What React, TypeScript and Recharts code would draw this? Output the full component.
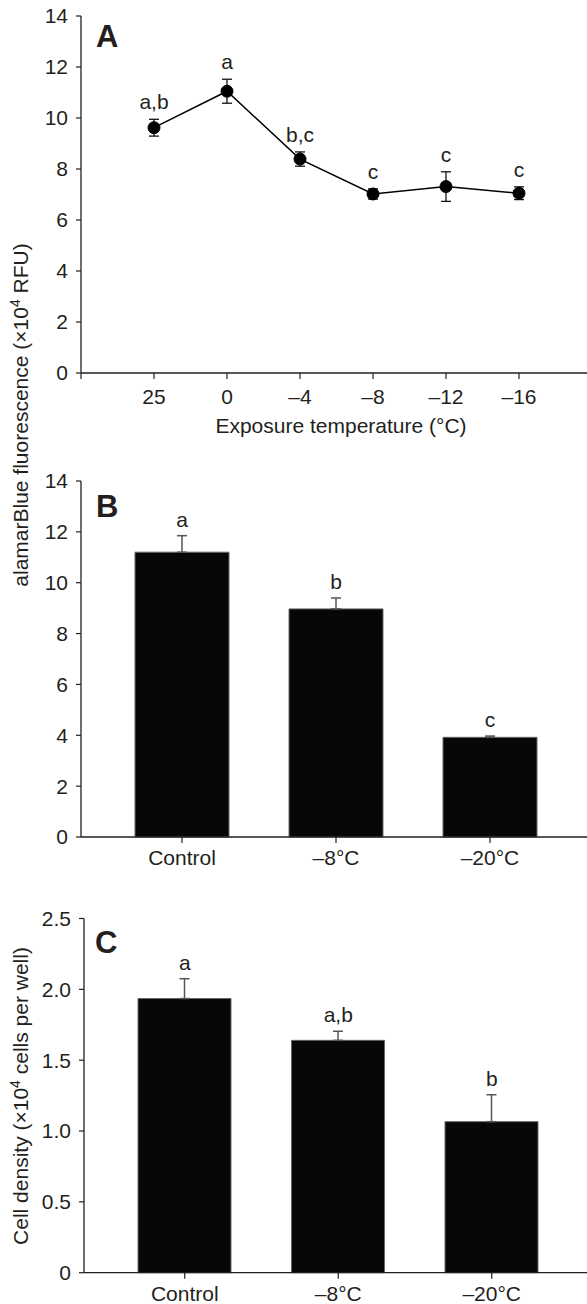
import React from 'react';
import {
  LineChart,
  Line,
  XAxis,
  YAxis,
  ErrorBar,
  LabelList,
  ComposedChart,
  Bar,
} from 'recharts';

// ---- Panel A data ----
const tempLabels = ['25', '0', '–4', '–8', '–12', '–16'];
const fluorMeans = [9.62, 11.05, 8.39, 7.02, 7.31, 7.05];
const fluorErrs = [0.33, 0.47, 0.28, 0.2, 0.58, 0.25];
const fluorLetters = ['a,b', 'a', 'b,c', 'c', 'c', 'c'];

// ---- Panel B / C data ----
const treatLabels = ['Control', '–8°C', '–20°C'];
const bMeans = [11.2, 8.97, 3.92];
const bErrs = [0.65, 0.43, 0.05];
const bLetters = ['a', 'b', 'c'];
const cMeans = [1.935, 1.64, 1.066];
const cErrs = [0.14, 0.064, 0.19];
const cLetters = ['a', 'a,b', 'b'];

const fluorTicks = [0, 2, 4, 6, 8, 10, 12, 14];
const densityTicks = [0, 0.5, 1, 1.5, 2, 2.5];
const tempTickIdx = [0, 1, 2, 3, 4, 5, 6];

const FONT = '"Liberation Sans", Arial, Helvetica, sans-serif';
const TXT = '#231f20';
const AX = '#231f20';
const FS = 21;

const dataA = tempLabels.map((l, i) => ({
  x: i + 1,
  label: l,
  mean: fluorMeans[i],
  err: fluorErrs[i],
  top: fluorMeans[i] + fluorErrs[i],
  letter: fluorLetters[i],
}));

const mkBar = (means: number[], errs: number[], letters: string[]) =>
  treatLabels.map((n, i) => ({
    name: n,
    mean: means[i],
    errRange: [0, errs[i]],
    top: means[i] + errs[i],
    letter: letters[i],
  }));

const dataB = mkBar(bMeans, bErrs, bLetters);
const dataC = mkBar(cMeans, cErrs, cLetters);

const tickStyle = { fill: TXT, fontSize: FS, fontFamily: FONT };
const letterStyle = { fill: TXT, fontSize: FS, fontFamily: FONT };

export default function App() {
  return (
    <div
      style={{
        position: 'absolute',
        left: 0,
        top: 0,
        width: 587,
        height: 1304,
        overflow: 'hidden',
        background: '#fff',
      }}
    >
      {/* Panel A */}
      <div style={{ position: 'absolute', left: 0, top: 0 }}>
        <LineChart
          width={587}
          height={460}
          data={dataA}
          accessibilityLayer={false}
          margin={{ top: 16, right: -5, bottom: 57, left: 0 }}
        >
          <XAxis
            xAxisId="top"
            orientation="top"
            dataKey="x"
            type="number"
            domain={[0, 7]}
            height={0}
            tick={false}
            tickLine={false}
            axisLine={{ stroke: '#555', strokeWidth: 1.3 }}
          />
          <XAxis
            dataKey="x"
            type="number"
            domain={[0, 7]}
            ticks={tempTickIdx}
            interval={0}
            tickFormatter={(v: number) => tempLabels[v - 1] ?? ''}
            height={30}
            tick={tickStyle}
            tickSize={6}
            tickMargin={10}
            axisLine={{ stroke: AX, strokeWidth: 1.3 }}
            tickLine={{ stroke: AX, strokeWidth: 1.2 }}
          />
          <YAxis
            type="number"
            domain={[0, 14]}
            ticks={fluorTicks}
            interval={0}
            width={81}
            tick={tickStyle}
            tickSize={5}
            tickMargin={8}
            axisLine={{ stroke: AX, strokeWidth: 1.3 }}
            tickLine={{ stroke: AX, strokeWidth: 1.2 }}
          />
          <Line
            dataKey="mean"
            stroke="#000"
            strokeWidth={1.5}
            dot={{ r: 6, fill: '#000', stroke: '#000', strokeWidth: 1 }}
            activeDot={false}
            isAnimationActive={false}
          >
            <ErrorBar dataKey="err" width={5} stroke="#111" strokeWidth={1.3} />
          </Line>
          <Line
            dataKey="top"
            stroke="none"
            dot={false}
            activeDot={false}
            isAnimationActive={false}
          >
            <LabelList dataKey="letter" position="top" offset={10} style={letterStyle} />
          </Line>
        </LineChart>
      </div>

      {/* Panel B */}
      <div style={{ position: 'absolute', left: 0, top: 460 }}>
        <ComposedChart
          width={587}
          height={420}
          data={dataB}
          accessibilityLayer={false}
          margin={{ top: 21, right: -4, bottom: 13, left: 0 }}
        >
          <XAxis
            xAxisId="top"
            orientation="top"
            dataKey="name"
            height={0}
            tick={false}
            tickLine={false}
            axisLine={{ stroke: '#222', strokeWidth: 1.3 }}
          />
          <XAxis
            dataKey="name"
            padding={{ left: 24, right: 24 }}
            height={30}
            interval={0}
            tick={tickStyle}
            tickSize={6}
            tickMargin={7}
            axisLine={{ stroke: AX, strokeWidth: 1.3 }}
            tickLine={{ stroke: AX, strokeWidth: 1.2 }}
          />
          <YAxis
            type="number"
            domain={[0, 14]}
            ticks={fluorTicks}
            interval={0}
            width={81}
            tick={tickStyle}
            tickSize={5}
            tickMargin={8}
            axisLine={{ stroke: AX, strokeWidth: 1.3 }}
            tickLine={{ stroke: AX, strokeWidth: 1.2 }}
          />
          <Bar
            dataKey="mean"
            barSize={94}
            fill="#060709"
            stroke="#666"
            strokeWidth={1}
            isAnimationActive={false}
          >
            <ErrorBar dataKey="errRange" width={5} stroke="#555" strokeWidth={1.5} />
          </Bar>
          <Line
            dataKey="top"
            stroke="none"
            dot={false}
            activeDot={false}
            isAnimationActive={false}
          >
            <LabelList dataKey="letter" position="top" offset={9} style={letterStyle} />
          </Line>
        </ComposedChart>
      </div>

      {/* Panel C */}
      <div style={{ position: 'absolute', left: 0, top: 880 }}>
        <ComposedChart
          width={587}
          height={424}
          data={dataC}
          accessibilityLayer={false}
          margin={{ top: 38.5, right: -5.5, bottom: 1.3, left: 0 }}
        >
          <XAxis
            xAxisId="top"
            orientation="top"
            dataKey="name"
            height={0}
            tick={false}
            tickLine={false}
            axisLine={{ stroke: '#555', strokeWidth: 1.3 }}
          />
          <XAxis
            dataKey="name"
            padding={{ left: 24, right: 24 }}
            height={30}
            interval={0}
            tick={tickStyle}
            tickSize={6}
            tickMargin={7}
            axisLine={{ stroke: AX, strokeWidth: 1.3 }}
            tickLine={{ stroke: AX, strokeWidth: 1.2 }}
          />
          <YAxis
            type="number"
            domain={[0, 2.5]}
            ticks={densityTicks}
            interval={0}
            width={84}
            tick={tickStyle}
            tickSize={5}
            tickMargin={8}
            tickFormatter={(v: number) => (v === 0 ? '0' : v.toFixed(1))}
            axisLine={{ stroke: AX, strokeWidth: 1.3 }}
            tickLine={{ stroke: AX, strokeWidth: 1.2 }}
          />
          <Bar
            dataKey="mean"
            barSize={93}
            fill="#060709"
            stroke="#666"
            strokeWidth={1}
            isAnimationActive={false}
          >
            <ErrorBar dataKey="errRange" width={5} stroke="#555" strokeWidth={1.5} />
          </Bar>
          <Line
            dataKey="top"
            stroke="none"
            dot={false}
            activeDot={false}
            isAnimationActive={false}
          >
            <LabelList dataKey="letter" position="top" offset={9} style={letterStyle} />
          </Line>
        </ComposedChart>
      </div>

      {/* Text overlay */}
      <svg
        width={587}
        height={1304}
        style={{ position: 'absolute', left: 0, top: 0, pointerEvents: 'none' }}
        fontFamily={FONT}
      >
        <text x={96} y={47} fontSize={31} fontWeight="bold" fill={TXT}>A</text>
        <text x={96} y={517} fontSize={31} fontWeight="bold" fill={TXT}>B</text>
        <text x={95} y={953} fontSize={31} fontWeight="bold" fill={TXT}>C</text>
        <text x={341} y={433} fontSize={FS} fill={TXT} textAnchor="middle">
          Exposure temperature (°C)
        </text>
        <text
          x={28}
          y={415}
          fontSize={FS}
          fill={TXT}
          textAnchor="middle"
          transform="rotate(-90 28 415)"
        >
          alamarBlue fluorescence (×10
          <tspan dy={-8} fontSize={14}>4</tspan>
          <tspan dy={8}> RFU)</tspan>
        </text>
        <text
          x={28}
          y={1096}
          fontSize={FS}
          fill={TXT}
          textAnchor="middle"
          transform="rotate(-90 28 1096)"
        >
          Cell density (×10
          <tspan dy={-8} fontSize={14}>4</tspan>
          <tspan dy={8}> cells per well)</tspan>
        </text>
      </svg>
    </div>
  );
}
